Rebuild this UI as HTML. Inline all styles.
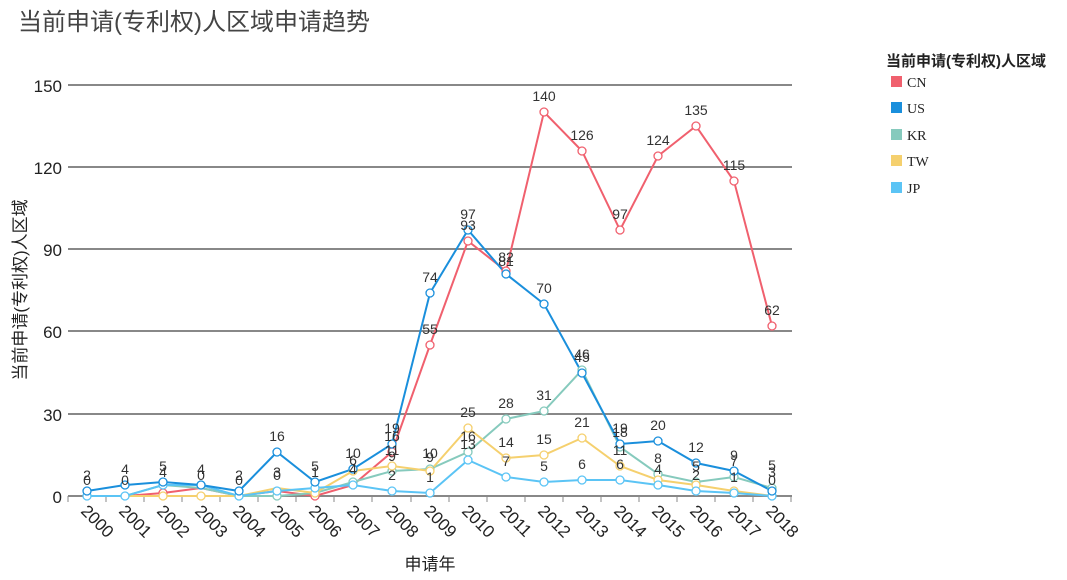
<!DOCTYPE html>
<html><head><meta charset="utf-8"><style>
body{margin:0;background:#fff;width:1067px;height:575px;overflow:hidden}
text{font-family:"Liberation Sans","Noto Sans CJK SC",sans-serif}
</style></head><body>
<svg width="1067" height="575" xmlns="http://www.w3.org/2000/svg">
<text x="18" y="30" font-size="24" fill="#444">当前申请(专利权)人区域申请趋势</text>
<g stroke="#888" stroke-width="2">
<line x1="68" y1="85" x2="792" y2="85"/><line x1="68" y1="167" x2="792" y2="167"/>
<line x1="68" y1="249" x2="792" y2="249"/><line x1="68" y1="331" x2="792" y2="331"/>
<line x1="68" y1="414" x2="792" y2="414"/><line x1="68" y1="496" x2="792" y2="496"/>
</g>
<g stroke="#888" stroke-width="1">
<line x1="68" y1="496" x2="68" y2="502"/><line x1="106" y1="496" x2="106" y2="502"/><line x1="144" y1="496" x2="144" y2="502"/><line x1="182" y1="496" x2="182" y2="502"/><line x1="220" y1="496" x2="220" y2="502"/><line x1="258" y1="496" x2="258" y2="502"/><line x1="296" y1="496" x2="296" y2="502"/><line x1="334" y1="496" x2="334" y2="502"/><line x1="372" y1="496" x2="372" y2="502"/><line x1="411" y1="496" x2="411" y2="502"/><line x1="449" y1="496" x2="449" y2="502"/><line x1="487" y1="496" x2="487" y2="502"/><line x1="525" y1="496" x2="525" y2="502"/><line x1="563" y1="496" x2="563" y2="502"/><line x1="601" y1="496" x2="601" y2="502"/><line x1="639" y1="496" x2="639" y2="502"/><line x1="677" y1="496" x2="677" y2="502"/><line x1="715" y1="496" x2="715" y2="502"/><line x1="753" y1="496" x2="753" y2="502"/><line x1="791" y1="496" x2="791" y2="502"/>
</g>
<g font-size="17" fill="#222" text-anchor="end">
<text x="62" y="92">150</text><text x="62" y="174">120</text><text x="62" y="256">90</text><text x="62" y="338">60</text><text x="62" y="421">30</text><text x="62" y="503">0</text>
</g>
<text transform="translate(26,290) rotate(-90)" font-size="17" fill="#222" text-anchor="middle">当前申请(专利权)人区域</text>
<text x="430" y="570" font-size="17" fill="#222" text-anchor="middle">申请年</text>
<g font-size="17" fill="#222">
<text transform="translate(80,512) rotate(45)">2000</text><text transform="translate(118,512) rotate(45)">2001</text><text transform="translate(156,512) rotate(45)">2002</text><text transform="translate(194,512) rotate(45)">2003</text><text transform="translate(232,512) rotate(45)">2004</text><text transform="translate(270,512) rotate(45)">2005</text><text transform="translate(308,512) rotate(45)">2006</text><text transform="translate(346,512) rotate(45)">2007</text><text transform="translate(385,512) rotate(45)">2008</text><text transform="translate(423,512) rotate(45)">2009</text><text transform="translate(461,512) rotate(45)">2010</text><text transform="translate(499,512) rotate(45)">2011</text><text transform="translate(537,512) rotate(45)">2012</text><text transform="translate(575,512) rotate(45)">2013</text><text transform="translate(613,512) rotate(45)">2014</text><text transform="translate(651,512) rotate(45)">2015</text><text transform="translate(689,512) rotate(45)">2016</text><text transform="translate(727,512) rotate(45)">2017</text><text transform="translate(765,512) rotate(45)">2018</text>
</g>
<g fill="none" stroke-width="2">
<polyline stroke="#f0606e" points="87,496 125,496 163,493 201,488 239,496 277,491 315,496 353,485 392,452 430,345 468,241 506,271 544,112 582,151 620,230 658,156 696,126 734,181 772,326"/>
<polyline stroke="#86cabd" points="87,496 125,496 163,485 201,488 239,496 277,496 315,493 353,482 392,471 430,469 468,452 506,419 544,411 582,370 620,447 658,474 696,482 734,477 772,488"/>
<polyline stroke="#f5d06e" points="87,496 125,496 163,496 201,496 239,496 277,488 315,493 353,471 392,466 430,471 468,428 506,458 544,455 582,438 620,466 658,480 696,485 734,491 772,496"/>
<polyline stroke="#5bc4f5" points="87,496 125,496 163,485 201,485 239,496 277,491 315,488 353,485 392,491 430,493 468,460 506,477 544,482 582,480 620,480 658,485 696,491 734,493 772,496"/>
<polyline stroke="#1a8fdc" points="87,491 125,485 163,482 201,485 239,491 277,452 315,482 353,469 392,444 430,293 468,230 506,274 544,304 582,373 620,444 658,441 696,463 734,471 772,491"/>
</g>
<g fill="#fff" stroke-width="1.3">
<g stroke="#f0606e"><circle cx="430" cy="345" r="4"/><circle cx="468" cy="241" r="4"/><circle cx="506" cy="271" r="4"/><circle cx="544" cy="112" r="4"/><circle cx="582" cy="151" r="4"/><circle cx="620" cy="230" r="4"/><circle cx="658" cy="156" r="4"/><circle cx="696" cy="126" r="4"/><circle cx="734" cy="181" r="4"/><circle cx="772" cy="326" r="4"/><circle cx="392" cy="452" r="4"/><circle cx="315" cy="496" r="4"/><circle cx="163" cy="493" r="4"/></g>
<g stroke="#86cabd"><circle cx="468" cy="452" r="4"/><circle cx="506" cy="419" r="4"/><circle cx="544" cy="411" r="4"/><circle cx="582" cy="370" r="4"/><circle cx="620" cy="447" r="4"/><circle cx="658" cy="474" r="4"/><circle cx="696" cy="482" r="4"/><circle cx="734" cy="477" r="4"/><circle cx="772" cy="488" r="4"/><circle cx="430" cy="469" r="4"/><circle cx="392" cy="471" r="4"/><circle cx="353" cy="482" r="4"/><circle cx="277" cy="496" r="4"/></g>
<g stroke="#f5d06e"><circle cx="163" cy="496" r="4"/><circle cx="201" cy="496" r="4"/><circle cx="315" cy="493" r="4"/><circle cx="353" cy="471" r="4"/><circle cx="392" cy="466" r="4"/><circle cx="430" cy="471" r="4"/><circle cx="468" cy="428" r="4"/><circle cx="506" cy="458" r="4"/><circle cx="544" cy="455" r="4"/><circle cx="582" cy="438" r="4"/><circle cx="620" cy="466" r="4"/><circle cx="658" cy="480" r="4"/><circle cx="696" cy="485" r="4"/><circle cx="734" cy="491" r="4"/></g>
<g stroke="#5bc4f5"><circle cx="87" cy="496" r="4"/><circle cx="125" cy="496" r="4"/><circle cx="163" cy="485" r="4"/><circle cx="201" cy="485" r="4"/><circle cx="239" cy="496" r="4"/><circle cx="277" cy="491" r="4"/><circle cx="315" cy="488" r="4"/><circle cx="353" cy="485" r="4"/><circle cx="392" cy="491" r="4"/><circle cx="430" cy="493" r="4"/><circle cx="468" cy="460" r="4"/><circle cx="506" cy="477" r="4"/><circle cx="544" cy="482" r="4"/><circle cx="582" cy="480" r="4"/><circle cx="620" cy="480" r="4"/><circle cx="658" cy="485" r="4"/><circle cx="696" cy="491" r="4"/><circle cx="734" cy="493" r="4"/><circle cx="772" cy="496" r="4"/></g>
<g stroke="#1a8fdc"><circle cx="87" cy="491" r="4"/><circle cx="125" cy="485" r="4"/><circle cx="163" cy="482" r="4"/><circle cx="201" cy="485" r="4"/><circle cx="239" cy="491" r="4"/><circle cx="277" cy="452" r="4"/><circle cx="315" cy="482" r="4"/><circle cx="353" cy="469" r="4"/><circle cx="392" cy="444" r="4"/><circle cx="430" cy="293" r="4"/><circle cx="468" cy="230" r="4"/><circle cx="506" cy="274" r="4"/><circle cx="544" cy="304" r="4"/><circle cx="582" cy="373" r="4"/><circle cx="620" cy="444" r="4"/><circle cx="658" cy="441" r="4"/><circle cx="696" cy="463" r="4"/><circle cx="734" cy="471" r="4"/><circle cx="772" cy="491" r="4"/></g>
</g>
<g font-size="14" fill="#333" text-anchor="middle">
<text x="544" y="101">140</text><text x="582" y="140">126</text><text x="620" y="219">97</text><text x="658" y="145">124</text><text x="696" y="115">135</text><text x="734" y="170">115</text><text x="772" y="315">62</text>
<text x="430" y="334">55</text><text x="468" y="230">93</text><text x="506" y="262">82</text><text x="506" y="266">81</text>
<text x="430" y="282">74</text><text x="468" y="219">97</text><text x="544" y="293">70</text><text x="582" y="359">46</text><text x="582" y="362">45</text>
<text x="506" y="408">28</text><text x="544" y="400">31</text><text x="468" y="417">25</text><text x="468" y="441">16</text><text x="468" y="449">13</text>
<text x="506" y="447">14</text><text x="544" y="444">15</text><text x="582" y="427">21</text><text x="620" y="433">19</text><text x="620" y="437">18</text><text x="658" y="430">20</text>
<text x="620" y="455">11</text><text x="506" y="466">7</text><text x="544" y="471">5</text><text x="582" y="469">6</text><text x="620" y="469">6</text>
<text x="658" y="463">8</text><text x="658" y="474">4</text><text x="696" y="452">12</text><text x="696" y="471">5</text><text x="696" y="480">2</text>
<text x="734" y="460">9</text><text x="734" y="466">7</text><text x="734" y="482">1</text><text x="772" y="470">5</text><text x="772" y="477">3</text><text x="772" y="485">0</text>
<text x="277" y="441">16</text><text x="392" y="433">19</text><text x="392" y="441">16</text><text x="392" y="455">11</text><text x="392" y="461">9</text><text x="392" y="480">2</text>
<text x="430" y="458">10</text><text x="430" y="462">9</text><text x="430" y="482">1</text><text x="353" y="458">10</text><text x="353" y="465">6</text><text x="353" y="474">4</text>
<text x="87" y="480">2</text><text x="87" y="485">0</text><text x="125" y="474">4</text><text x="125" y="485">0</text><text x="163" y="471">5</text><text x="163" y="477">4</text>
<text x="201" y="474">4</text><text x="201" y="480">0</text><text x="239" y="480">2</text><text x="239" y="485">0</text><text x="277" y="477">3</text><text x="277" y="480">0</text>
<text x="315" y="471">5</text><text x="315" y="477">1</text>
</g>
<text x="886" y="66" font-size="15" fill="#222" font-weight="bold">当前申请(专利权)人区域</text>
<g font-size="14" fill="#222" font-family="Liberation Serif">
<rect x="891" y="76" width="11" height="11" fill="#f0606e"/><text x="907" y="87" style="font-family:'Liberation Serif',serif">CN</text>
<rect x="891" y="102" width="11" height="11" fill="#1a8fdc"/><text x="907" y="113" style="font-family:'Liberation Serif',serif">US</text>
<rect x="891" y="129" width="11" height="11" fill="#86cabd"/><text x="907" y="140" style="font-family:'Liberation Serif',serif">KR</text>
<rect x="891" y="155" width="11" height="11" fill="#f5d06e"/><text x="907" y="166" style="font-family:'Liberation Serif',serif">TW</text>
<rect x="891" y="182" width="11" height="11" fill="#5bc4f5"/><text x="907" y="193" style="font-family:'Liberation Serif',serif">JP</text>
</g>
</svg>
</body></html>
